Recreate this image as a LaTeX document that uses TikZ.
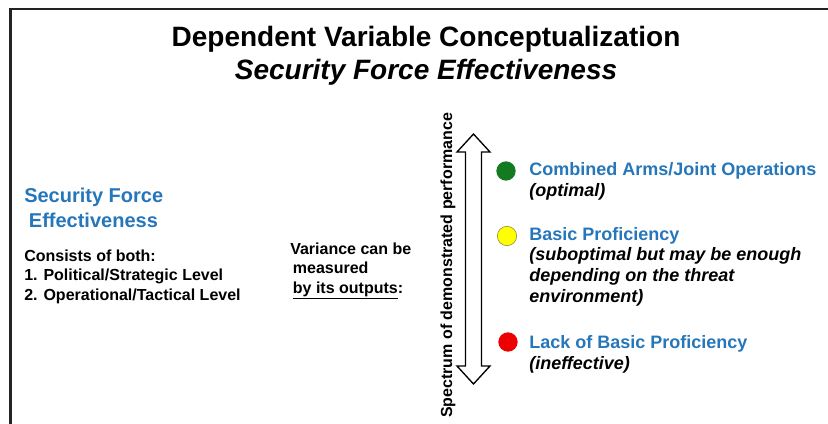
\documentclass[tikz,border=0pt]{standalone}
\usepackage{fontspec}
\setmainfont{Liberation Sans}

\definecolor{headblue}{RGB}{38,118,186}
\definecolor{goodgreen}{RGB}{20,122,32}
\definecolor{okyellow}{RGB}{255,255,0}
\definecolor{okrim}{RGB}{150,150,60}
\definecolor{badred}{RGB}{238,0,0}
\definecolor{framegray}{RGB}{35,35,35}

\begin{document}
\begin{tikzpicture}[x=0.75pt,y=-0.75pt]
    \pgfmathsetmacro{\dotsize}{14.5}     % traffic light dots, in pt
    \pgfmathsetmacro{\arrowx}{473.5}
    \pgfmathsetmacro{\arrowtop}{134}
    \pgfmathsetmacro{\arrowbottom}{384}
    \pgfmathsetmacro{\headlength}{18}
    \pgfmathsetmacro{\headhalf}{16.5}
    \pgfmathsetmacro{\shafthalf}{8}
    \providecommand{\titlefontsize}{\fontsize{21}{25}\selectfont}
    \providecommand{\headfontsize}{\fontsize{15}{18}\selectfont}
    \providecommand{\listfontsize}{\fontsize{12}{14.6}\selectfont}
    \providecommand{\levelfontsize}{\fontsize{13.5}{15.4}\selectfont}
    % multi-line nodes sit on the baseline of their last line
    \tikzset{
        txt/.style={anchor=base west,align=left,inner sep=0},
        dot/.style={circle,inner sep=0,minimum size=\dotsize pt},
    }
    \useasboundingbox (0,0) rectangle (828,424);
    \draw[framegray,line width=1.8pt] (10.5,424) -- (10.5,9) -- (828,9);

    \node[anchor=base,font=\titlefontsize\bfseries] (title) at (426,47) {Dependent Variable Conceptualization};
    \node[anchor=base,font=\titlefontsize\bfseries\itshape] (subtitle) at (426,80) {Security Force Effectiveness};

    % left column
    \node[txt,text=headblue,font=\headfontsize\bfseries] (sfe) at (24,227) {Security Force\\\hspace{3.5pt}Effectiveness};
    \node[txt,font=\listfontsize\bfseries] (levels) at (24,300) {Consists of both:\\1. Political/Strategic Level\\2. Operational/Tactical Level};
    \node[txt,font=\listfontsize\bfseries] (variance) at (290,293) {Variance can be\\\hspace{2pt}measured\\\hspace{2pt}\underline{by its outputs}:};

    % spectrum arrow
    \draw[line width=1pt,fill=white] (\arrowx,\arrowtop)
        -- (\arrowx+\headhalf,\arrowtop+\headlength) -- (\arrowx+\shafthalf,\arrowtop+\headlength)
        -- (\arrowx+\shafthalf,\arrowbottom-\headlength) -- (\arrowx+\headhalf,\arrowbottom-\headlength)
        -- (\arrowx,\arrowbottom)
        -- (\arrowx-\headhalf,\arrowbottom-\headlength) -- (\arrowx-\shafthalf,\arrowbottom-\headlength)
        -- (\arrowx-\shafthalf,\arrowtop+\headlength) -- (\arrowx-\headhalf,\arrowtop+\headlength) -- cycle;
    \node[rotate=90,anchor=base,inner sep=0,font=\listfontsize\bfseries] (spectrum) at (452,265.5) {Spectrum of demonstrated performance};

    % levels of performance
    \node[dot,fill=goodgreen] (optimal) at (506,171) {};
    \node[dot,fill=okyellow,draw=okrim,line width=0.5pt] (basic) at (507,236) {};
    \node[dot,fill=badred] (lack) at (508,342) {};
    \node[txt,font=\levelfontsize\bfseries] (optimaltext) at (529,196) {{\color{headblue}Combined Arms/Joint Operations}\\{\itshape (optimal)}};
    \node[txt,font=\levelfontsize\bfseries] (basictext) at (529,302) {{\color{headblue}Basic Proficiency}\\{\itshape (suboptimal but may be enough}\\{\itshape depending on the threat}\\{\itshape environment)}};
    \node[txt,font=\levelfontsize\bfseries] (lacktext) at (529,369) {{\color{headblue}Lack of Basic Proficiency}\\{\itshape (ineffective)}};
\end{tikzpicture}
\end{document}
